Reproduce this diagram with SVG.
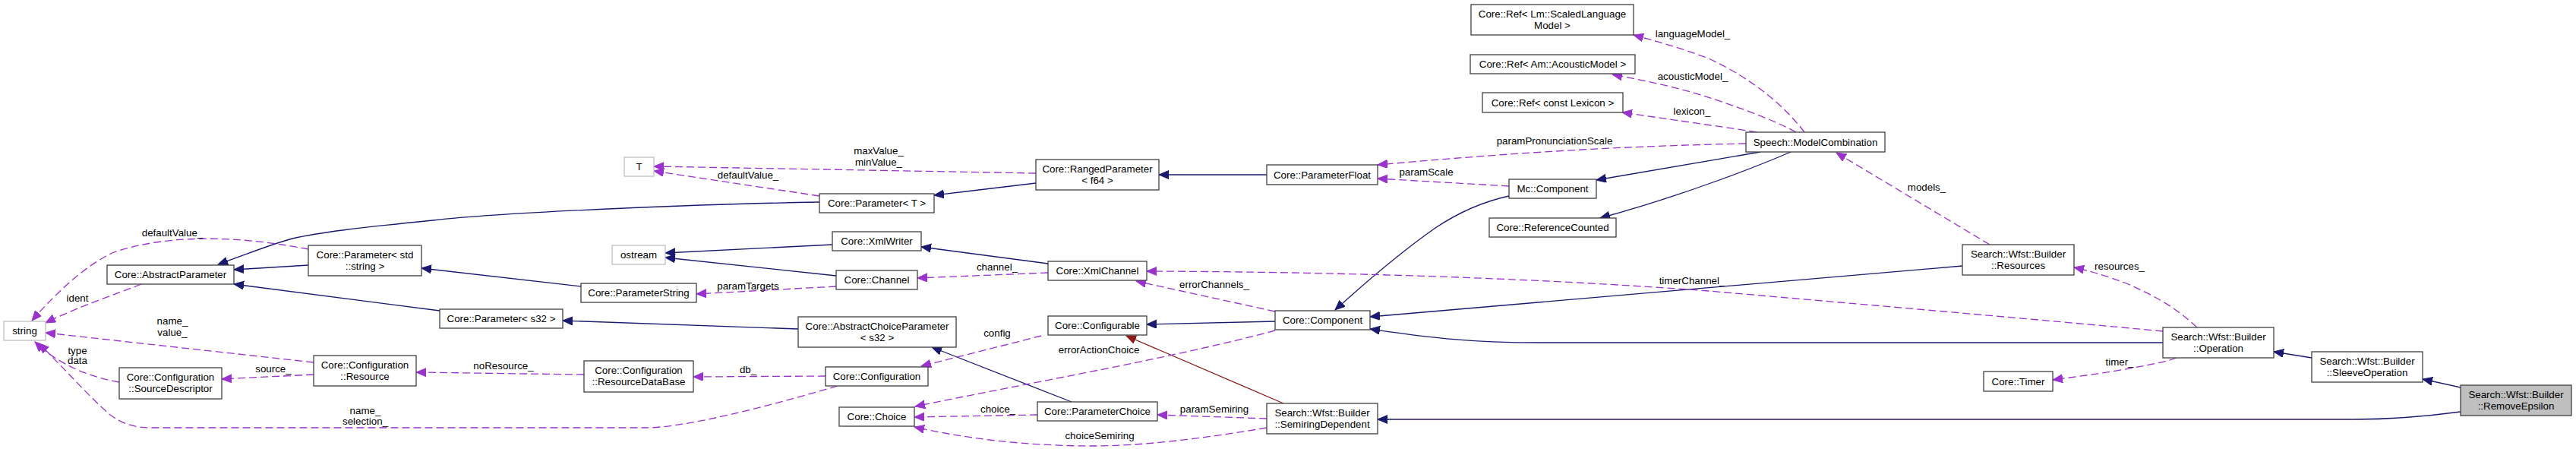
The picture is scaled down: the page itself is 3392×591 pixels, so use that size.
<svg xmlns="http://www.w3.org/2000/svg" width="3392" height="591" viewBox="0 0 3392 591">
<style>
text{font-family:"Liberation Sans",Arial,sans-serif;font-size:13.33px;text-anchor:middle;fill:#000}
.n rect{fill:#fff;stroke:#404040;stroke-width:1.3}
.g rect{fill:#fff;stroke:#bfbfbf;stroke-width:1.3}
.hl rect{fill:#bfbfbf;stroke:#404040;stroke-width:1.3}
.inh{fill:none;stroke:#191970;stroke-width:1.3;marker-end:url(#ab)}
.prot{fill:none;stroke:#8b1a1a;stroke-width:1.3;marker-end:url(#ar)}
.use{fill:none;stroke:#9a32cd;stroke-width:1.3;stroke-dasharray:10,5;marker-end:url(#ap)}
</style>
<defs>
<marker id="ab" markerUnits="userSpaceOnUse" markerWidth="15" markerHeight="13" refX="13" refY="5.5" orient="auto"><path d="M0,0 L13,5.5 L0,11 z" fill="#191970" stroke="#191970"/></marker>
<marker id="ar" markerUnits="userSpaceOnUse" markerWidth="15" markerHeight="13" refX="13" refY="5.5" orient="auto"><path d="M0,0 L13,5.5 L0,11 z" fill="#8b1a1a" stroke="#8b1a1a"/></marker>
<marker id="ap" markerUnits="userSpaceOnUse" markerWidth="15" markerHeight="13" refX="13" refY="5.5" orient="auto"><path d="M0,0 L13,5.5 L0,11 z" fill="#9a32cd" stroke="#9a32cd"/></marker>
</defs>
<rect width="3392" height="591" fill="#fff"/>
<g id="connectors">
<path class="inh" d="M1079,266 C950,268 680,278 570,290 C470,300 420,306 385,314 C355,322 330,333 287,348"/>
<path class="inh" d="M406,349 L308,355"/>
<path class="inh" d="M579,409 L308,374"/>
<path class="inh" d="M765,377 L555,353"/>
<path class="inh" d="M1051,433 L741,422"/>
<path class="inh" d="M1411,529 L1227,457"/>
<path class="inh" d="M1096,322 L876,333"/>
<path class="inh" d="M1101,363 L876,339"/>
<path class="inh" d="M1380,347 L1213,325"/>
<path class="inh" d="M1364,241 L1230,257"/>
<path class="inh" d="M1668,230 L1526,230"/>
<path class="inh" d="M1679,423 L1510,427"/>
<path class="prot" d="M1690,531 L1483,442"/>
<path class="inh" d="M1987,258 C1950,266 1920,280 1890,300 C1850,328 1800,370 1758,408"/>
<path class="inh" d="M2318,200 L2102,237"/>
<path class="inh" d="M2358,200 C2300,225 2200,262 2107,287"/>
<path class="inh" d="M2584,350 L1804,417"/>
<path class="inh" d="M2848,451 L2030,451 C1920,451 1860,441 1804,433"/>
<path class="inh" d="M3044,471 L2994,463"/>
<path class="inh" d="M3240,510 L3190,499"/>
<path class="inh" d="M3240,542 C3180,550 3140,552 3100,552 L1814,552"/>

<path class="use" d="M186,374 C150,388 100,405 60,425"/>
<path class="use" d="M406,328 C330,313 230,305 150,332 C110,350 70,390 42,422"/>
<path class="use" d="M413,477 L60,438"/>
<path class="use" d="M157,503 C115,496 75,478 46,450"/>
<path class="use" d="M1103,508 C1000,538 900,563 850,563 L200,563 C175,563 160,557 145,546 C120,525 80,480 51,452"/>
<path class="use" d="M413,493 L292,499"/>
<path class="use" d="M769,493 L548,490"/>
<path class="use" d="M1087,495 L913,496"/>
<path class="use" d="M1364,228 L861,219"/>
<path class="use" d="M1079,258 L861,225"/>
<path class="use" d="M1101,377 L917,387"/>
<path class="use" d="M1380,359 L1208,366"/>
<path class="use" d="M1679,410 L1496,370"/>
<path class="use" d="M2848,436 C2700,422 2400,396 2250,383 C2050,368 1800,358 1510,357"/>
<path class="use" d="M1371,442 C1320,455 1260,470 1213,482"/>
<path class="use" d="M1679,435 C1550,470 1350,505 1205,535"/>
<path class="use" d="M1366,546 L1204,549"/>
<path class="use" d="M1668,551 L1524,546"/>
<path class="use" d="M1668,563 C1580,578 1500,587 1440,587 C1350,587 1270,577 1204,562"/>
<path class="use" d="M2299,189 C2100,193 1950,205 1814,217"/>
<path class="use" d="M1987,245 L1814,235"/>
<path class="use" d="M2376,174 C2350,140 2310,105 2250,77 C2210,62 2180,54 2151,46"/>
<path class="use" d="M2365,174 C2330,155 2280,138 2240,125 C2200,113 2160,105 2123,98"/>
<path class="use" d="M2313,174 C2290,170 2260,166 2240,163 L2136,148"/>
<path class="use" d="M2620,322 L2418,201"/>
<path class="use" d="M2893,431 C2870,410 2850,395 2800,373 C2770,362 2750,356 2731,352"/>
<path class="use" d="M2866,471 C2845,479 2780,490 2703,500"/>

<text x="102" y="397">ident</text>
<text x="227" y="311">defaultValue_</text>
<text x="227" y="427">name_</text>
<text x="227" y="442">value_</text>
<text x="102" y="466">type</text>
<text x="102" y="479">data</text>
<text x="360" y="490">source_</text>
<text x="481" y="545">name_</text>
<text x="481" y="559">selection_</text>
<text x="663" y="486">noResource_</text>
<text x="985" y="491">db_</text>
<text x="985" y="235">defaultValue_</text>
<text x="1157" y="203">maxValue_</text>
<text x="1157" y="218">minValue_</text>
<text x="985" y="381">paramTargets</text>
<text x="1313" y="356">channel_</text>
<text x="1599" y="379">errorChannels_</text>
<text x="1313" y="443">config</text>
<text x="1447" y="465">errorActionChoice</text>
<text x="1314" y="543">choice_</text>
<text x="1599" y="543">paramSemiring</text>
<text x="1448" y="578">choiceSemiring</text>
<text x="2047" y="190">paramPronunciationScale</text>
<text x="1878" y="231">paramScale</text>
<text x="2229" y="49">languageModel_</text>
<text x="2229" y="105">acousticModel_</text>
<text x="2228" y="151">lexicon_</text>
<text x="2537" y="251">models_</text>
<text x="2228" y="374">timerChannel_</text>
<text x="2791" y="355">resources_</text>
<text x="2791" y="481">timer_</text>
</g>

<g id="string" class="g"><rect x="5" y="423" width="55" height="25"/><text x="32.5" y="440">string</text></g>
<g id="abstractParameter" class="n"><rect x="141" y="349" width="167" height="25"/><text x="224.5" y="366">Core::AbstractParameter</text></g>
<g id="parameterStdString" class="n"><rect x="406" y="323" width="149" height="40"/><text x="480.5" y="340">Core::Parameter&lt; std</text><text x="480.5" y="355">::string &gt;</text></g>
<g id="sourceDescriptor" class="n"><rect x="157" y="484" width="135" height="41"/><text x="224.5" y="501">Core::Configuration</text><text x="224.5" y="516">::SourceDescriptor</text></g>
<g id="resource" class="n"><rect x="413" y="468" width="135" height="40"/><text x="480.5" y="485">Core::Configuration</text><text x="480.5" y="500">::Resource</text></g>
<g id="T" class="g"><rect x="822" y="207" width="39" height="25"/><text x="841.5" y="224">T</text></g>
<g id="ostream" class="g"><rect x="806" y="323" width="70" height="25"/><text x="841" y="340">ostream</text></g>
<g id="parameterString" class="n"><rect x="765" y="373" width="152" height="25"/><text x="841" y="390">Core::ParameterString</text></g>
<g id="parameterS32" class="n"><rect x="579" y="407" width="162" height="25"/><text x="660" y="424">Core::Parameter&lt; s32 &gt;</text></g>
<g id="resourceDataBase" class="n"><rect x="769" y="475" width="144" height="41"/><text x="841" y="492">Core::Configuration</text><text x="841" y="507">::ResourceDataBase</text></g>
<g id="parameterT" class="n"><rect x="1079" y="255" width="151" height="25"/><text x="1154.5" y="272">Core::Parameter&lt; T &gt;</text></g>
<g id="xmlWriter" class="n"><rect x="1096" y="305" width="117" height="25"/><text x="1154.5" y="322">Core::XmlWriter</text></g>
<g id="channel" class="n"><rect x="1101" y="356" width="107" height="25"/><text x="1154.5" y="373">Core::Channel</text></g>
<g id="abstractChoiceParameter" class="n"><rect x="1051" y="417" width="208" height="40"/><text x="1155" y="434">Core::AbstractChoiceParameter</text><text x="1155" y="449">&lt; s32 &gt;</text></g>
<g id="configuration" class="n"><rect x="1087" y="483" width="135" height="25"/><text x="1154.5" y="500">Core::Configuration</text></g>
<g id="choice" class="n"><rect x="1105" y="536" width="99" height="25"/><text x="1154.5" y="553">Core::Choice</text></g>
<g id="rangedParameter" class="n"><rect x="1364" y="210" width="162" height="40"/><text x="1445" y="227">Core::RangedParameter</text><text x="1445" y="242">&lt; f64 &gt;</text></g>
<g id="xmlChannel" class="n"><rect x="1380" y="344" width="130" height="25"/><text x="1445" y="361">Core::XmlChannel</text></g>
<g id="configurable" class="n"><rect x="1380" y="416" width="130" height="25"/><text x="1445" y="433">Core::Configurable</text></g>
<g id="parameterChoice" class="n"><rect x="1366" y="529" width="158" height="25"/><text x="1445" y="546">Core::ParameterChoice</text></g>
<g id="parameterFloat" class="n"><rect x="1668" y="217" width="146" height="26"/><text x="1741" y="234.5">Core::ParameterFloat</text></g>
<g id="component" class="n"><rect x="1679" y="409" width="125" height="25"/><text x="1741.5" y="426">Core::Component</text></g>
<g id="semiringDependent" class="n"><rect x="1668" y="531" width="146" height="40"/><text x="1741" y="548">Search::Wfst::Builder</text><text x="1741" y="563">::SemiringDependent</text></g>
<g id="refLm" class="n"><rect x="1937" y="6" width="214" height="40"/><text x="2044" y="23">Core::Ref&lt; Lm::ScaledLanguage</text><text x="2044" y="38">Model &gt;</text></g>
<g id="refAm" class="n"><rect x="1936" y="72" width="217" height="25"/><text x="2044.5" y="89">Core::Ref&lt; Am::AcousticModel &gt;</text></g>
<g id="refLexicon" class="n"><rect x="1952" y="122" width="185" height="26"/><text x="2044.5" y="139.5">Core::Ref&lt; const Lexicon &gt;</text></g>
<g id="mcComponent" class="n"><rect x="1987" y="236" width="115" height="25"/><text x="2044.5" y="253">Mc::Component</text></g>
<g id="referenceCounted" class="n"><rect x="1961" y="287" width="167" height="25"/><text x="2044.5" y="304">Core::ReferenceCounted</text></g>
<g id="modelCombination" class="n"><rect x="2299" y="174" width="183" height="26"/><text x="2390.5" y="191.5">Speech::ModelCombination</text></g>
<g id="resources" class="n"><rect x="2584" y="322" width="147" height="40"/><text x="2657.5" y="339">Search::Wfst::Builder</text><text x="2657.5" y="354">::Resources</text></g>
<g id="timer" class="n"><rect x="2612" y="489" width="91" height="26"/><text x="2657.5" y="506.5">Core::Timer</text></g>
<g id="operation" class="n"><rect x="2848" y="431" width="146" height="40"/><text x="2921" y="448">Search::Wfst::Builder</text><text x="2921" y="463">::Operation</text></g>
<g id="sleeveOperation" class="n"><rect x="3044" y="463" width="146" height="40"/><text x="3117" y="480">Search::Wfst::Builder</text><text x="3117" y="495">::SleeveOperation</text></g>
<g id="removeEpsilon" class="hl"><rect x="3240" y="507" width="146" height="40"/><text x="3313" y="524">Search::Wfst::Builder</text><text x="3313" y="539">::RemoveEpsilon</text></g>
</svg>
